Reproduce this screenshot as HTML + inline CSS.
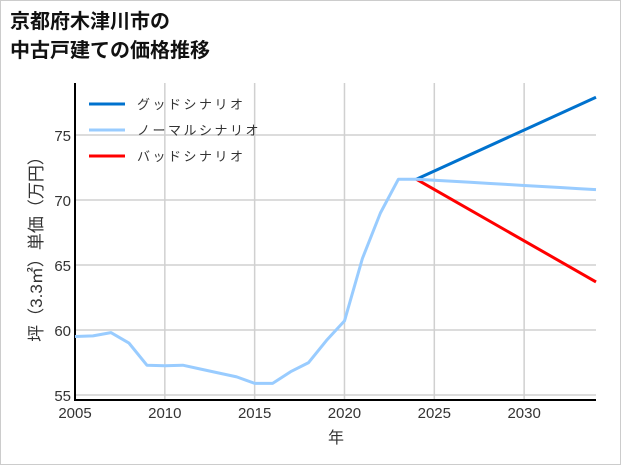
<!DOCTYPE html>
<html><head><meta charset="utf-8"><style>
body{margin:0;background:#fff}
#wrap{position:relative;width:619px;height:463px;border:1px solid #ccc;overflow:hidden;font-family:"Liberation Sans","Noto Sans CJK JP",sans-serif}
#title{position:absolute;left:9px;top:7px;font-size:20px;font-weight:bold;line-height:29px;color:#111}
</style></head><body>
<div id="wrap">
<div id="title">京都府木津川市の<br>中古戸建ての価格推移</div>
<svg id="chart" width="621" height="465" style="position:absolute;left:-1px;top:-1px"></svg>
</div>
<script>
const years=[2005,2006,2007,2008,2009,2010,2011,2012,2013,2014,2015,2016,2017,2018,2019,2020,2021,2022,2023,2024,2025,2026,2027,2028,2029,2030,2031,2032,2033,2034];
const normalVals=[59.5,59.55,59.8,59.0,57.3,57.25,57.3,57.0,56.7,56.4,55.9,55.9,56.8,57.5,59.2,60.7,65.5,69.0,71.6,71.6,71.52,71.44,71.36,71.28,71.2,71.12,71.04,70.96,70.88,70.8];
const futureYears=[2024,2034];
const goodVals=[71.6,77.9];
const badVals=[71.6,63.7];
const xTicks=[2005,2010,2015,2020,2025,2030];
const yTicks=[55,60,65,70,75];
const seriesNames=["グッドシナリオ","ノーマルシナリオ","バッドシナリオ"];
const seriesColors=["#0072CE","#99CCFF","#FF0000"];

const L=75,R=596,T=83,B=400,xmin=2005,xmax=2034,ymin=54.62,ymax=79.0;
const X=v=>L+(v-xmin)/(xmax-xmin)*(R-L);
const Y=v=>B-(v-ymin)/(ymax-ymin)*(B-T);
const svg=document.getElementById('chart');
const NS='http://www.w3.org/2000/svg';
function mk(tag,attrs,parent){const e=document.createElementNS(NS,tag);for(const k in attrs)e.setAttribute(k,attrs[k]);(parent||svg).appendChild(e);return e;}

xTicks.forEach(t=>{
  const g=mk('line',{x1:X(t),x2:X(t),y1:T,y2:B,stroke:'#d0d0d0','stroke-width':1.5});
  
  
  const tx=mk('text',{x:X(t),y:B+18,'text-anchor':'middle','font-size':15,fill:'#333'});
  tx.textContent=t;
  
  
});
yTicks.forEach(t=>{
  const g=mk('line',{x1:L,x2:R,y1:Y(t),y2:Y(t),stroke:'#d0d0d0','stroke-width':1.5});
  
  
  const tx=mk('text',{x:L-4,y:Y(t)+6,'text-anchor':'end','font-size':15,fill:'#333'});
  tx.textContent=t;
  
  
});
const ax=mk('path',{d:`M${L},${T} L${L},${B} L${R},${B}`,stroke:'#000','stroke-width':2,fill:'none'});



function line(xs,ys,color,name){
  const d=xs.map((x,i)=>(i?'L':'M')+X(x).toFixed(1)+','+Y(ys[i]).toFixed(1)).join(' ');
  const p=mk('path',{d:d,stroke:color,'stroke-width':3,fill:'none','stroke-linejoin':'round'});
  
  
}
line(futureYears,badVals,seriesColors[2],'bad-scenario-line');
line(futureYears,goodVals,seriesColors[0],'good-scenario-line');
line(years,normalVals,seriesColors[1],'normal-scenario-line');

seriesNames.forEach((n,i)=>{
  const y=104+i*26;
  const l=mk('line',{x1:89,x2:125,y1:y,y2:y,stroke:seriesColors[i],'stroke-width':3});
  
  
  const t=mk('text',{x:137,y:y+5,'font-size':13,fill:'#333','letter-spacing':'2.5'});
  t.textContent=n;
  
  
});
const xl=mk('text',{x:336,y:443,'text-anchor':'middle','font-size':16,fill:'#333'});
xl.textContent='年';


const yl=mk('text',{x:0,y:0,'text-anchor':'middle','font-size':17,fill:'#333',transform:'translate(42,245) rotate(-90)'});
yl.textContent='坪（3.3㎡）単価（万円）';


</script>
</body></html>
